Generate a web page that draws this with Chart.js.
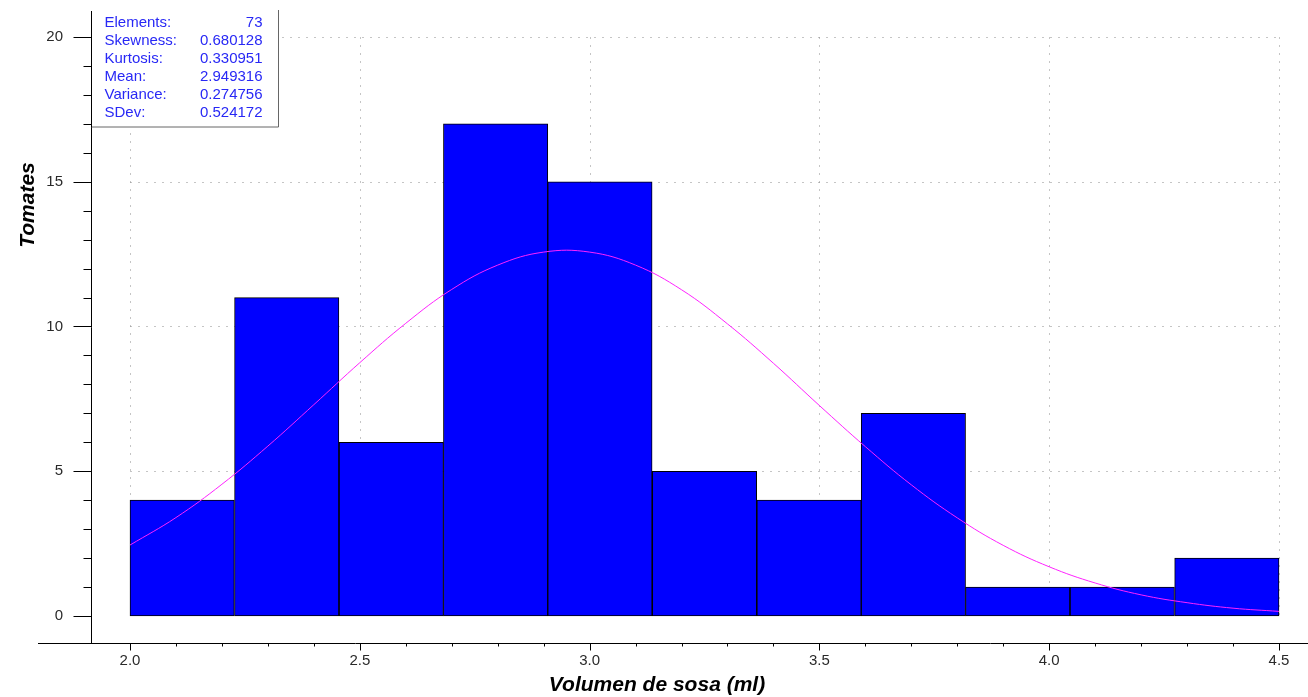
<!DOCTYPE html>
<html>
<head>
<meta charset="utf-8">
<script src="https://cdn.jsdelivr.net/npm/chart.js@4/dist/chart.umd.min.js"></script>
<style>
  html, body { margin: 0; padding: 0; background: #fff; }
  #wrap { width: 1308px; height: 697px; }
</style>
</head>
<body>
<div id="wrap"><canvas id="c" width="1308" height="697"></canvas></div>
<script>
// ---- data ----
const binEdges = [2.000, 2.227, 2.455, 2.682, 2.909, 3.136, 3.364, 3.591, 3.818, 4.045, 4.273, 4.500];
const binCounts = [4, 11, 6, 17, 15, 5, 4, 7, 1, 1, 2];
const curveX = [2.0, 2.1, 2.2, 2.3, 2.4, 2.5, 2.6, 2.7, 2.8, 2.9, 3.0, 3.1, 3.2, 3.3, 3.4, 3.5, 3.6, 3.7, 3.8, 3.9, 4.0, 4.1, 4.2, 4.3, 4.4, 4.5];
const curveY = [2.45, 3.40, 4.55, 5.87, 7.30, 8.75, 10.11, 11.28, 12.12, 12.57, 12.57, 12.12, 11.27, 10.09, 8.73, 7.27, 5.85, 4.53, 3.39, 2.44, 1.70, 1.14, 0.73, 0.46, 0.27, 0.16];
const xTickValues = [2.0, 2.5, 3.0, 3.5, 4.0, 4.5];
const xTickLabels = ['2.0', '2.5', '3.0', '3.5', '4.0', '4.5'];
const yTickValues = [0, 5, 10, 15, 20];
const yTickLabels = ['0', '5', '10', '15', '20'];
const statLabels = ['Elements:', 'Skewness:', 'Kurtosis:', 'Mean:', 'Variance:', 'SDev:'];
const statValues = ['73', '0.680128', '0.330951', '2.949316', '0.274756', '0.524172'];
const xTitle = 'Volumen de sosa (ml)';
const yTitle = 'Tomates';

const barData = binCounts.map((c, i) => ({ x: (binEdges[i] + binEdges[i + 1]) / 2, y: c }));
const lineData = curveX.map((x, i) => ({ x: x, y: curveY[i] }));

Chart.defaults.font.family = "'Liberation Sans', Arial, sans-serif";

const gridPlugin = {
  id: 'dottedGrid',
  beforeDatasetsDraw(chart) {
    const ctx = chart.ctx, xs = chart.scales.x, ys = chart.scales.y;
    const x0 = Math.round(xs.getPixelForValue(xTickValues[0])) + 0.5;
    const x1 = Math.round(xs.getPixelForValue(xTickValues[xTickValues.length - 1])) + 0.5;
    const y0 = Math.round(ys.getPixelForValue(yTickValues[0])) + 0.5;
    const y1 = Math.round(ys.getPixelForValue(yTickValues[yTickValues.length - 1])) + 0.5;
    ctx.save();
    ctx.strokeStyle = '#8a8a8a';
    ctx.lineWidth = 1;
    ctx.setLineDash([1, 7]);
    yTickValues.forEach(v => {
      if (v === yTickValues[0]) return;
      const y = Math.round(ys.getPixelForValue(v)) + 0.5;
      ctx.beginPath(); ctx.moveTo(x0, y); ctx.lineTo(x1, y); ctx.stroke();
    });
    xTickValues.forEach(v => {
      const x = Math.round(xs.getPixelForValue(v)) + 0.5;
      ctx.beginPath(); ctx.moveTo(x, y1); ctx.lineTo(x, y0); ctx.stroke();
    });
    ctx.restore();
  }
};

const decorPlugin = {
  id: 'decor',
  afterDraw(chart) {
    const ctx = chart.ctx, xs = chart.scales.x, ys = chart.scales.y, ca = chart.chartArea;
    ctx.save();
    ctx.strokeStyle = '#000';
    ctx.lineWidth = 1;
    const ax = Math.round(ca.left) + 0.5;
    const ay = Math.round(ca.bottom) + 0.5;
    // axis lines
    ctx.beginPath();
    ctx.moveTo(ax, ca.top); ctx.lineTo(ax, ay);
    ctx.moveTo(ca.left - 53, ay); ctx.lineTo(ca.right, ay);
    ctx.stroke();
    // y ticks (major every 5, minor every 1)
    for (let v = yTickValues[0]; v <= yTickValues[yTickValues.length - 1]; v += 1) {
      const y = Math.round(ys.getPixelForValue(v)) + 0.5;
      const len = (v % 5 === 0) ? 18 : 8;
      ctx.beginPath(); ctx.moveTo(ax - len, y); ctx.lineTo(ax, y); ctx.stroke();
    }
    // x ticks (major every 0.5, minor every 0.1)
    for (let k = 20; k <= 45; k++) {
      const v = k / 10;
      const x = Math.round(xs.getPixelForValue(v)) + 0.5;
      const len = (k % 5 === 0) ? 7 : 3;
      ctx.beginPath(); ctx.moveTo(x, ay); ctx.lineTo(x, ay + len); ctx.stroke();
    }
    // stats box
    const bx = ax, by = ca.top - 1, bw = 187, bh = 117;
    ctx.fillStyle = '#fff';
    ctx.fillRect(bx + 0.5, by, bw, bh);
    ctx.strokeStyle = '#666';
    ctx.beginPath();
    ctx.moveTo(bx + bw, by); ctx.lineTo(bx + bw, by + bh); ctx.lineTo(bx, by + bh);
    ctx.stroke();
    ctx.strokeStyle = '#000';
    ctx.beginPath(); ctx.moveTo(ax, ca.top); ctx.lineTo(ax, by + bh); ctx.stroke();
    ctx.fillStyle = 'rgb(40,40,245)';
    ctx.font = "15px 'Liberation Sans', Arial, sans-serif";
    ctx.textBaseline = 'middle';
    statLabels.forEach((lab, i) => {
      const y = by + 12.5 + i * 18;
      ctx.textAlign = 'left';
      ctx.fillText(lab, bx + 13, y);
      ctx.textAlign = 'right';
      ctx.fillText(statValues[i], bx + bw - 16, y);
    });
    // axis titles
    ctx.fillStyle = '#000';
    ctx.font = "italic bold 21px 'Liberation Sans', Arial, sans-serif";
    ctx.textAlign = 'center';
    ctx.textBaseline = 'middle';
    ctx.fillText(xTitle, 657, ay + 42);
    ctx.translate(28, 205);
    ctx.rotate(-Math.PI / 2);
    ctx.fillText(yTitle, 0, 0);
    ctx.restore();
  }
};

new Chart(document.getElementById('c'), {
  data: {
    datasets: [
      {
        type: 'line',
        data: lineData,
        borderColor: '#ff22ff',
        borderWidth: 1,
        pointRadius: 0,
        tension: 0.4,
        order: 0
      },
      {
        type: 'bar',
        data: barData,
        backgroundColor: '#0000ff',
        borderColor: '#000',
        borderWidth: 1,
        borderSkipped: false,
        barPercentage: 1,
        categoryPercentage: 1,
        grouped: false,
        order: 1
      }
    ]
  },
  options: {
    responsive: false,
    animation: false,
    events: [],
    layout: { padding: { top: 11, right: 0, left: 0, bottom: 0 } },
    plugins: { legend: { display: false }, tooltip: { enabled: false } },
    scales: {
      x: {
        type: 'linear',
        offset: false,
        min: 1.91514,
        max: 4.5631,
        grid: { display: false, drawTicks: false, offset: false },
        border: { display: false },
        afterBuildTicks: (s) => { s.ticks = xTickValues.map(v => ({ value: v })); },
        afterFit: (s) => { s.height = 54; s.paddingLeft = 0; s.paddingRight = 0; },
        ticks: {
          autoSkip: false,
          maxRotation: 0,
          padding: 9,
          color: '#2a2a2a',
          font: { size: 15 },
          callback: (v) => xTickLabels[xTickValues.indexOf(v)]
        }
      },
      y: {
        type: 'linear',
        offset: false,
        min: -0.9326,
        max: 20.898,
        grid: { display: false, drawTicks: false },
        border: { display: false },
        afterBuildTicks: (s) => { s.ticks = yTickValues.map(v => ({ value: v })); },
        afterFit: (s) => { s.width = 91; s.paddingTop = 0; s.paddingBottom = 0; },
        ticks: {
          autoSkip: false,
          padding: 28,
          color: '#2a2a2a',
          font: { size: 15 },
          callback: (v) => yTickLabels[yTickValues.indexOf(v)]
        }
      }
    }
  },
  plugins: [gridPlugin, decorPlugin]
});
</script>
</body>
</html>
